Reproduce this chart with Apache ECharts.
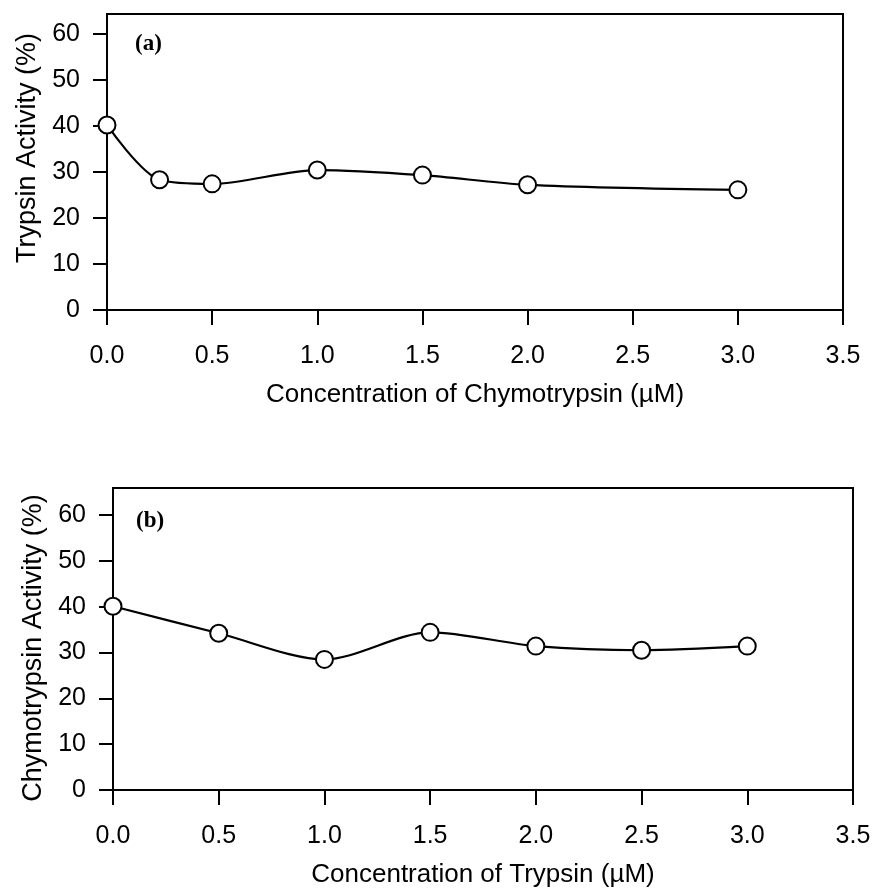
<!DOCTYPE html>
<html>
<head>
<meta charset="utf-8">
<title>Trypsin / Chymotrypsin activity</title>
<script src="https://cdn.jsdelivr.net/npm/echarts@6/dist/echarts.min.js"></script>
<style>
  html, body { margin: 0; padding: 0; background: #fff; }
  #main { width: 874px; height: 894px; }
</style>
</head>
<body>
<div id="main"></div>
<script>
// panel (a): trypsin activity vs chymotrypsin concentration
var chymoConc = [0, 0.25, 0.5, 1.0, 1.5, 2.0, 3.0];
var trypsinActivity = [40.2, 28.3, 27.4, 30.4, 29.3, 27.2, 26.1];

// panel (b): chymotrypsin activity vs trypsin concentration
var trypsinConc = [0, 0.5, 1.0, 1.5, 2.0, 2.5, 3.0];
var chymoActivity = [40.1, 34.2, 28.5, 34.4, 31.4, 30.5, 31.4];

var yTicks = [0, 10, 20, 30, 40, 50, 60];
var font = 'Liberation Sans, Arial, sans-serif';

function pairs(xs, ys) {
  return xs.map(function (x, i) { return [x, ys[i]]; });
}

function xAxisOf(idx, title) {
  return {
    type: 'value', gridIndex: idx,
    min: 0, max: 3.5, interval: 0.5,
    name: title, nameLocation: 'middle', nameGap: 72,
    nameTextStyle: { color: '#000', fontSize: 26, fontFamily: font },
    axisLine: { lineStyle: { color: '#000', width: 2 } },
    axisTick: { inside: false, length: 15, lineStyle: { color: '#000', width: 2 } },
    axisLabel: { color: '#000', fontSize: 25, fontFamily: font, margin: 34,
      formatter: function (v) { return v.toFixed(1); } },
    splitLine: { show: false }
  };
}

function yAxisOf(idx, title, top, pad) {
  return {
    type: 'value', gridIndex: idx,
    min: 0, max: top,
    name: title, nameLocation: 'middle', nameGap: 66,
    nameTextStyle: { color: '#000', fontSize: 27, fontFamily: font, padding: pad },
    axisLine: { lineStyle: { color: '#000', width: 2 } },
    axisTick: { length: 14, customValues: yTicks, lineStyle: { color: '#000', width: 2 } },
    axisLabel: { color: '#000', fontSize: 25, fontFamily: font, margin: 27, customValues: yTicks },
    splitLine: { show: false }
  };
}

function seriesOf(idx, data) {
  return {
    type: 'line', xAxisIndex: idx, yAxisIndex: idx,
    data: data,
    smooth: 0.3,
    symbol: 'circle', symbolSize: 17,
    lineStyle: { color: '#000', width: 2.2 },
    itemStyle: { color: '#fff', borderColor: '#000', borderWidth: 2 },
    z: 3
  };
}

var chart = echarts.init(document.getElementById('main'), null, { renderer: 'canvas' });
chart.setOption({
  backgroundColor: '#fff',
  animation: false,
  title: [
    { text: '(a)', left: 130, top: 28,
      textStyle: { fontFamily: 'Liberation Serif, serif', fontWeight: 'bold', fontSize: 23, color: '#000' } },
    { text: '(b)', left: 131, top: 505,
      textStyle: { fontFamily: 'Liberation Serif, serif', fontWeight: 'bold', fontSize: 23, color: '#000' } }
  ],
  grid: [
    { left: 107, top: 14, width: 736, height: 296, show: true, borderColor: '#000', borderWidth: 2 },
    { left: 113, top: 488, width: 740, height: 302, show: true, borderColor: '#000', borderWidth: 2 }
  ],
  xAxis: [
    xAxisOf(0, 'Concentration of Chymotrypsin (\u00b5M)'),
    xAxisOf(1, 'Concentration of Trypsin (\u00b5M)')
  ],
  yAxis: [
    yAxisOf(0, 'Trypsin Activity (%)', 64.3, [0, 0, 0, 28]),
    yAxisOf(1, 'Chymotrypsin Activity (%)', 65.9, [0, 18, 0, 0])
  ],
  series: [
    seriesOf(0, pairs(chymoConc, trypsinActivity)),
    seriesOf(1, pairs(trypsinConc, chymoActivity))
  ]
});
</script>
</body>
</html>
